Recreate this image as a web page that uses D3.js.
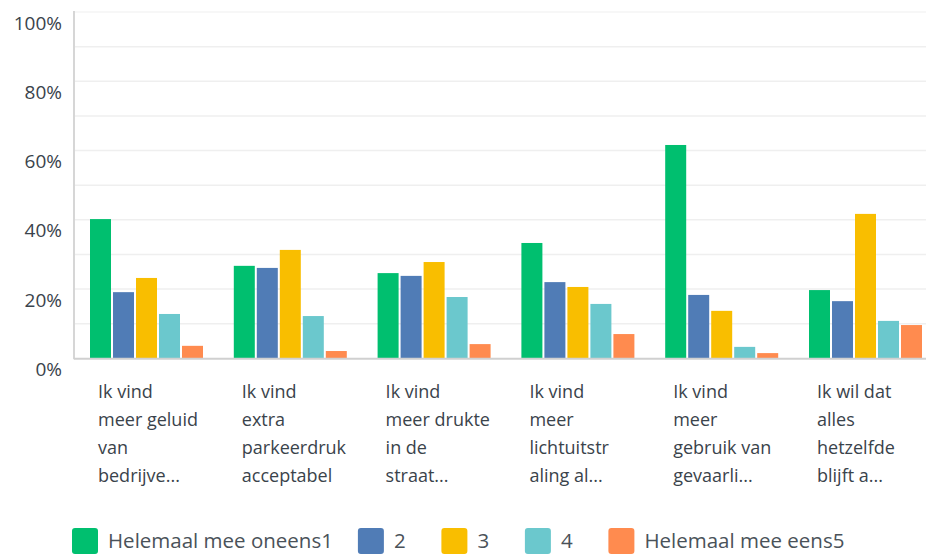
<!DOCTYPE html>
<html>
<head>
<meta charset="utf-8">
<script src="https://cdn.jsdelivr.net/npm/d3@7/dist/d3.min.js"></script>
<style>
  html, body { margin: 0; padding: 0; background: #fff; }
  svg { display: block; }
  text { font-family: "Open Sans", "Noto Sans", sans-serif; }
</style>
</head>
<body>
<svg id="chart" width="926" height="557"></svg>
<script>
const categories = [
  ["Ik vind", "meer geluid", "van", "bedrijve..."],
  ["Ik vind", "extra", "parkeerdruk", "acceptabel"],
  ["Ik vind", "meer drukte", "in de", "straat..."],
  ["Ik vind", "meer", "lichtuitstr", "aling al..."],
  ["Ik vind", "meer", "gebruik van", "gevaarli..."],
  ["Ik wil dat", "alles", "hetzelfde", "blijft a..."]
];
const seriesNames = ["Helemaal mee oneens1", "2", "3", "4", "Helemaal mee eens5"];
const seriesColors = ["#00BF6F", "#507CB6", "#F9BE00", "#6BC8CD", "#FF8B4F"];
const s1 = [40.2, 26.7, 24.6, 33.3, 61.6, 19.7];
const s2 = [19.1, 26.1, 23.8, 22.0, 18.3, 16.5];
const s3 = [23.2, 31.3, 27.8, 20.6, 13.7, 41.7];
const s4 = [12.8, 12.2, 17.7, 15.7, 3.3, 10.8];
const s5 = [3.6, 2.1, 4.1, 7.0, 1.5, 9.6];
const seriesValues = [s1, s2, s3, s4, s5];
const yTicks = [0, 20, 40, 60, 80, 100];
const gridTicks = [10, 20, 30, 40, 50, 60, 70, 80, 90, 100];

const svg = d3.select("#chart");
const plotLeft = 74, plotRight = 936.8, plotTop = 12, plotBottom = 358.3;

const catIdx = categories.map((d, i) => i);
const x0 = d3.scaleBand().domain(catIdx).range([plotLeft, plotRight]).paddingInner(0).paddingOuter(0);
const x1 = d3.scaleBand().domain(seriesNames).range([16, 129]).paddingInner(0.087).paddingOuter(0);
const y = d3.scaleLinear().domain([0, 100]).range([plotBottom, plotTop]);

// gridlines
svg.append("g").selectAll("line").data(gridTicks).join("line")
  .attr("x1", plotLeft).attr("x2", 926)
  .attr("y1", d => y(d)).attr("y2", d => y(d))
  .attr("stroke", d => d === 100 ? "#f4f4f4" : "#efefef")
  .attr("stroke-width", 1.5);

// y tick labels
svg.append("g").selectAll("text").data(yTicks).join("text")
  .attr("x", 62).attr("y", d => y(d) + 17.5)
  .attr("text-anchor", "end")
  .attr("font-size", 19)
  .attr("fill", "#3a434b")
  .text(d => d + "%");

// bars
const groups = svg.append("g").selectAll("g").data(catIdx).join("g")
  .attr("transform", i => `translate(${x0(i)},0)`);
groups.selectAll("rect")
  .data(i => seriesNames.map((s, k) => ({ s, k, v: seriesValues[k][i] })))
  .join("rect")
  .attr("x", d => x1(d.s))
  .attr("width", x1.bandwidth())
  .attr("y", d => y(d.v))
  .attr("height", d => y(0) - y(d.v))
  .attr("fill", d => seriesColors[d.k]);

// axes lines
svg.append("line").attr("x1", plotLeft).attr("x2", plotLeft).attr("y1", plotTop - 1).attr("y2", plotBottom + 1)
  .attr("stroke", "#d6d6d6").attr("stroke-width", 2);
svg.append("line").attr("x1", plotLeft).attr("x2", 926).attr("y1", plotBottom + 0.5).attr("y2", plotBottom + 0.5)
  .attr("stroke", "#d0d0d0").attr("stroke-width", 2);

// category labels
groups.each(function(i) {
  const t = d3.select(this).append("text")
    .attr("x", 24).attr("y", 398)
    .attr("font-size", 18)
    .attr("fill", "#3a434b");
  t.selectAll("tspan").data(categories[i]).join("tspan")
    .attr("x", 24).attr("dy", (d, j) => j === 0 ? 0 : 28)
    .text(d => d);
});

// legend
const legend = svg.append("g");
let lx = 72;
seriesNames.forEach((name, k) => {
  const g = legend.append("g").attr("transform", `translate(${lx},0)`);
  g.append("rect").attr("x", 0).attr("y", 528).attr("width", 26).attr("height", 26)
    .attr("rx", 3).attr("fill", seriesColors[k]);
  const t = g.append("text").attr("x", 36).attr("y", 548)
    .attr("font-size", 20.5).attr("fill", "#4a5259").text(name);
  const w = t.node().getComputedTextLength();
  lx += Math.max(36 + w + 25, 83.5);
});
</script>
</body>
</html>
